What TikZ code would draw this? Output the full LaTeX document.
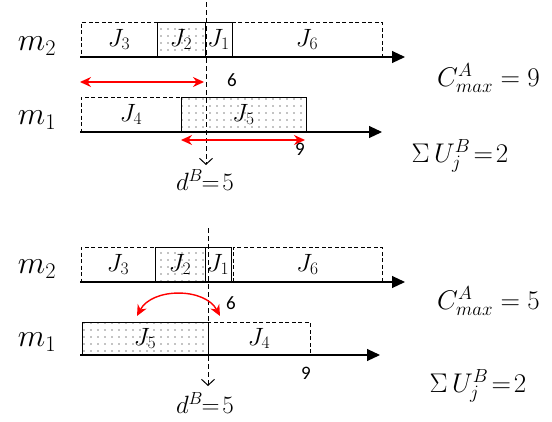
\RequirePackage{fix-cm}
\documentclass[tikz,border=0pt]{standalone}
\usepackage{fontspec}
\newfontfamily\numfont{Carlito}
\usetikzlibrary{arrows.meta,patterns.meta}
\begin{document}
\begin{tikzpicture}[x=1pt,y=-1pt,
  job/.style={draw, line width=1pt, inner sep=0pt, font=\fontsize{25}{25}\selectfont},
  dbox/.style={job, dash pattern=on 4pt off 2.5pt},
  sbox/.style={job, pattern={Dots[distance=7pt,radius=0.7pt]}},
  axis/.style={line width=1.1pt, -{Triangle[length=13pt,width=12pt]}},
  redarr/.style={red, line width=1.4pt, {Stealth[length=11pt,width=10pt]}-{Stealth[length=11pt,width=10pt]}},
  ddl/.style={line width=0.9pt, dash pattern=on 5pt off 3pt, -{Straight Barb[length=6pt,width=13pt,line width=1pt]}},
  mlab/.style={font=\fontsize{32}{32}\selectfont, inner sep=0pt},
  num/.style={font=\numfont\fontsize{19}{19}\selectfont, inner sep=0pt},
  res/.style={font=\fontsize{27}{27}\selectfont, inner sep=0pt},
  dlab/.style={font=\fontsize{25}{25}\selectfont, inner sep=0pt}
]
\useasboundingbox (0,0) rectangle (552,421);
% ---------- top ----------
\node[dbox, minimum width=76pt, minimum height=35pt] (a3) at (119,39.5) {$J_3$};
\node[sbox, minimum width=48pt, minimum height=35pt] (a2) at (181,39.5) {$J_2$};
\node[job, minimum width=27pt, minimum height=35pt] (a1) at (218.5,39.5) {$J_1$};
\node[dbox, minimum width=150pt, minimum height=35pt] (a6) at (307,39.5) {$J_6$};
\node[dbox, minimum width=100pt, minimum height=35pt] (a4) at (131,114.5) {$J_4$};
\node[sbox, minimum width=125pt, minimum height=35pt] (a5) at (243.5,114.5) {$J_5$};
\coordinate (am2s) at (80,57);
\coordinate (am2e) at (405,57);
\coordinate (am1s) at (80,132);
\coordinate (am1e) at (382,132);
\draw[axis] (am2s) -- (am2e);
\draw[axis] (am1s) -- (am1e);
\coordinate (adt) at (206,2);
\coordinate (adb) at (206,165);
\draw[ddl] (adt) -- (adb);
\coordinate (ar1a) at (80,82);
\coordinate (ar1b) at (204,82);
\draw[redarr] (ar1a) -- (ar1b);
\coordinate (ar2a) at (181,140);
\coordinate (ar2b) at (305,140);
\draw[redarr] (ar2a) -- (ar2b);
\node[num] (a6n) at (232,80) {6};
\node[num] (a9n) at (300,149) {9};
\node[dlab] (adl) at (205,180) {$d^B\!\!=\!5$};
\node[mlab] (am2) at (37,46) {$m_2$};
\node[mlab] (am1) at (37,120) {$m_1$};
\node[res, anchor=west] (ac) at (437,78) {$C_{max}^A = 9$};
\node[res] (au) at (460,156) {$\Sigma\,U_j^B\!=\!2$};
% ---------- bottom ----------
\node[dbox, minimum width=74pt, minimum height=35pt] (b3) at (118,264.5) {$J_3$};
\node[sbox, minimum width=50pt, minimum height=35pt] (b2) at (180,264.5) {$J_2$};
\node[job, minimum width=26pt, minimum height=35pt] (b1) at (218,264.5) {$J_1$};
\node[dbox, minimum width=149pt, minimum height=35pt] (b6) at (307.5,264.5) {$J_6$};
\node[sbox, minimum width=126pt, minimum height=33pt] (b5) at (145,338.5) {$J_5$};
\node[dbox, minimum width=102pt, minimum height=33pt] (b4) at (259,338.5) {$J_4$};
\coordinate (bm2s) at (80,282);
\coordinate (bm2e) at (405,282);
\coordinate (bm1s) at (80,355);
\coordinate (bm1e) at (380,355);
\draw[axis] (bm2s) -- (bm2e);
\draw[axis] (bm1s) -- (bm1e);
\coordinate (bdt) at (208,228);
\coordinate (bdb) at (208,386);
\draw[ddl] (bdt) -- (bdb);
\coordinate (br1a) at (137,316);
\coordinate (br1b) at (220,316);
\draw[redarr] (br1a) to[bend left=62] (br1b);
\node[num] (b6n) at (231,303) {6};
\node[num] (b9n) at (306,373) {9};
\node[dlab] (bdl) at (205,403) {$d^B\!\!=\!5$};
\node[mlab] (bm2) at (37,269) {$m_2$};
\node[mlab] (bm1) at (37,342) {$m_1$};
\node[res, anchor=west] (bc) at (437,301) {$C_{max}^A = 5$};
\node[res] (bu) at (478,386) {$\Sigma\,U_j^B\!=\!2$};
\end{tikzpicture}
\end{document}
